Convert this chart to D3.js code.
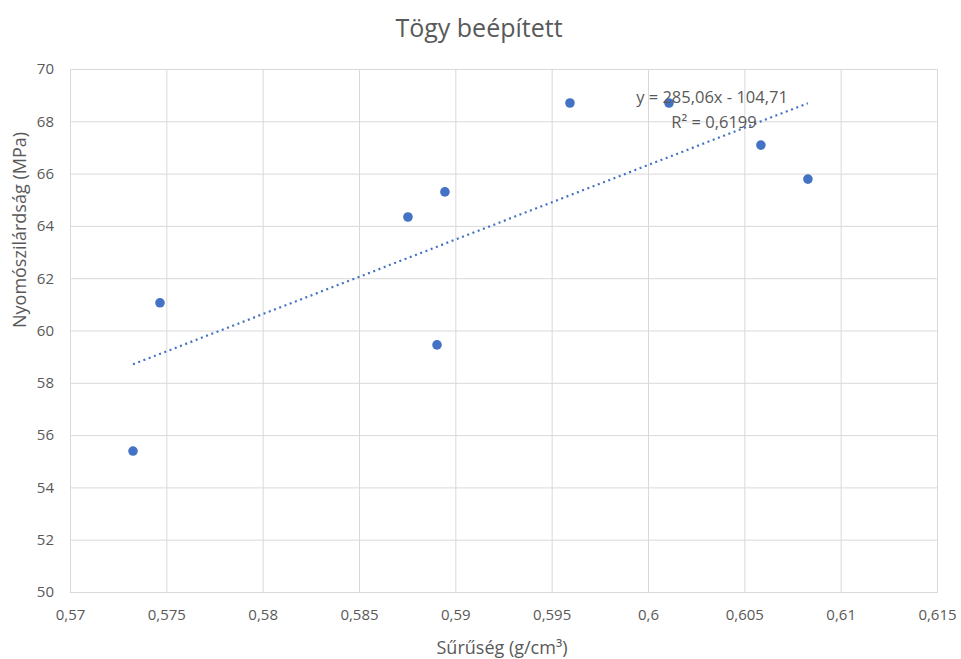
<!DOCTYPE html>
<html>
<head>
<meta charset="utf-8">
<script src="https://cdn.jsdelivr.net/npm/d3@7"></script>
<style>
  body { margin: 0; background: #fff; }
  text { font-family: "Open Sans", sans-serif; fill: #595959; }
</style>
</head>
<body>
<svg id="chart" width="961" height="659"></svg>
<script>
const density = [0.57327, 0.57467, 0.58754, 0.58905, 0.58946, 0.59595, 0.60109, 0.60586, 0.6083];
const strength = [55.39, 61.06, 64.34, 59.45, 65.30, 68.70, 68.70, 67.09, 65.79];
const xTicks = [0.57, 0.575, 0.58, 0.585, 0.59, 0.595, 0.6, 0.605, 0.61, 0.615];
const yTicks = [50, 52, 54, 56, 58, 60, 62, 64, 66, 68, 70];
const trendCoef = [285.06, -104.71];
const trendLabels = ["y = 285,06x - 104,71", "R² = 0,6199"];

const svg = d3.select("#chart");
const margin = {left: 70, right: 24, top: 69, bottom: 67};
const W = 961, H = 659;
const x = d3.scaleLinear().domain([0.57, 0.615]).range([margin.left, W - margin.right]);
const y = d3.scaleLinear().domain([50, 70]).range([H - margin.bottom, margin.top]);
const fmt = v => String(+v.toFixed(3)).replace(".", ",");

// grid
const gx = svg.append("g").attr("transform", `translate(0,${H - margin.bottom})`)
  .call(d3.axisBottom(x).tickValues(xTicks).tickSize(-(H - margin.bottom - margin.top)).tickFormat(fmt).tickPadding(17));
gx.select(".domain").attr("stroke", "#d9d9d9");
gx.selectAll(".tick line").attr("stroke", "#d9d9d9");
gx.selectAll(".tick text").style("font-size", "15px").attr("fill", "#595959");

const gy = svg.append("g").attr("transform", `translate(${margin.left},0)`)
  .call(d3.axisLeft(y).tickValues(yTicks).tickSize(-(W - margin.left - margin.right)).tickFormat(d => d).tickPadding(16));
gy.select(".domain").attr("stroke", "#d9d9d9");
gy.selectAll(".tick line").attr("stroke", "#d9d9d9");
gy.selectAll(".tick text").style("font-size", "15px").attr("fill", "#595959");

// trendline
const xMin = d3.min(density), xMax = d3.max(density);
svg.append("line")
  .attr("x1", x(xMin)).attr("y1", y(trendCoef[0] * xMin + trendCoef[1]))
  .attr("x2", x(xMax)).attr("y2", y(trendCoef[0] * xMax + trendCoef[1]))
  .attr("stroke", "#4472c4").attr("stroke-width", 2.2).attr("stroke-dasharray", "2,3.6");

// points
svg.append("g").selectAll("circle").data(density).join("circle")
  .attr("cx", d => x(d)).attr("cy", (d, i) => y(strength[i])).attr("r", 4.8)
  .attr("fill", "#4472c4");

// trend labels
svg.append("text").attr("x", 712).attr("y", 103).attr("text-anchor", "middle")
  .style("font-size", "16.5px").text(trendLabels[0]);
svg.append("text").attr("x", 714).attr("y", 128).attr("text-anchor", "middle")
  .style("font-size", "16.5px").text(trendLabels[1]);

// title
svg.append("text").attr("x", 479).attr("y", 37).attr("text-anchor", "middle")
  .style("font-size", "25px").text("Tögy beépített");

// axis titles
svg.append("text").attr("x", 502).attr("y", 654).attr("text-anchor", "middle")
  .style("font-size", "18px").text("Sűrűség (g/cm³)");
svg.append("text").attr("transform", "translate(26,230) rotate(-90)").attr("text-anchor", "middle")
  .style("font-size", "18px").text("Nyomószilárdság (MPa)");
</script>
</body>
</html>
